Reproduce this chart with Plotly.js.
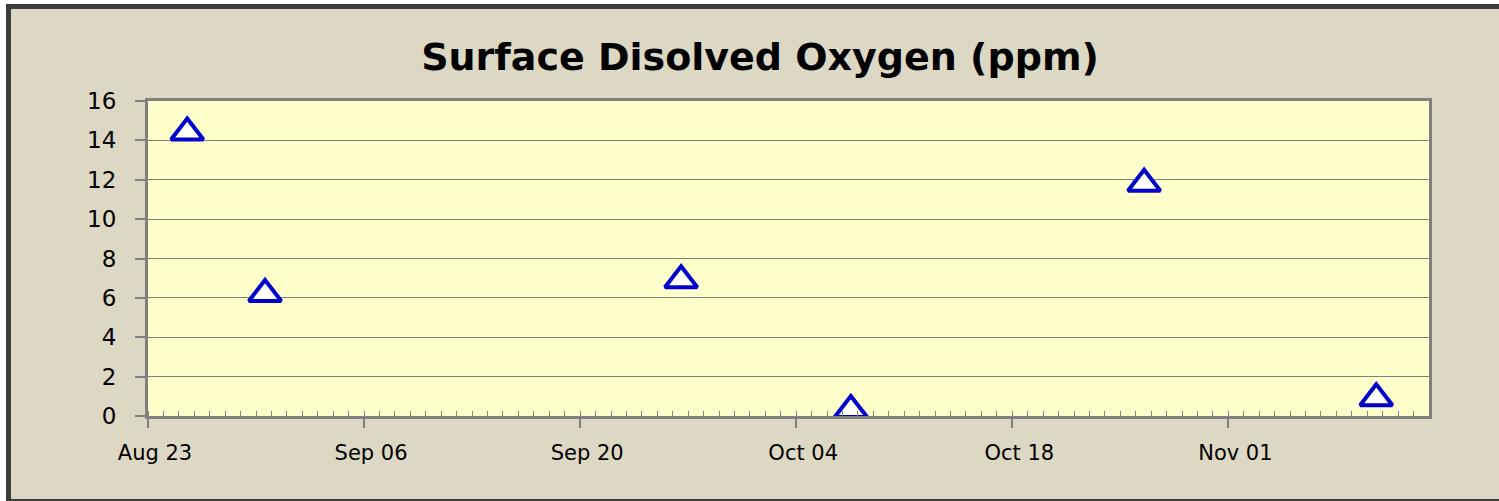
<!DOCTYPE html>
<html>
<head>
<meta charset="utf-8">
<script src="https://cdn.plot.ly/plotly-3.0.1.min.js"></script>
<style>
   body { margin: 0; background: #ffffff; overflow: hidden; }
   #frame {
      position: absolute; left: 6px; top: 4px;
      width: 1600px; height: 490px;
      border: 5px solid #3c3c3c;
      background: #ddd8c3;
   }
   #div_plot { position: absolute; left: 0; top: 0; width: 1499px; height: 501px; }
</style>
</head>
<body>
<div id="frame"></div>
<div id="div_plot"></div>
<script>
// sample dates (Excel centres each point inside its day slot)
var sample_dates = ["2008-08-25 13:00", "2008-08-30 14:00", "2008-09-26 13:00",
                    "2008-10-07 13:00", "2008-10-26 13:00", "2008-11-10 14:00"];
var oxygen_ppm = [14.4, 6.2, 6.9, 0.3, 11.8, 0.9];

var x_range = ["2008-08-23", "2008-11-14"];
var y_range = [0, 16];

var day_ms = 86400000;

function plot_graph(){

   var trace = {
      x: sample_dates,
      y: oxygen_ppm,
      mode: 'markers',
      type: 'scatter',
      marker: {
         symbol: 'triangle-up',
         size: 28,
         color: '#ffffff',
         line: { color: '#0000cc', width: 4 }
      },
      cliponaxis: false,
      hoverinfo: 'x+y'
   };

   var layout = {
      showlegend: false,
      width: 1499,
      height: 501,
      paper_bgcolor: 'rgba(0,0,0,0)',
      plot_bgcolor: '#ffffcc',
      margin: { l: 148, r: 70, t: 101, b: 85 },
      font: { family: 'DejaVu Sans', size: 22, color: '#000000' },
      title: {
         text: 'Surface Disolved Oxygen (ppm)',
         font: { family: 'DejaVu Sans', size: 38, color: '#000000', weight: 'bold' },
         x: 0.507,
         xanchor: 'center',
         yref: 'container',
         y: 1 - 57/501,
         yanchor: 'middle'
      },
      xaxis: {
         type: 'date',
         range: x_range,
         tick0: x_range[0],
         dtick: 14 * day_ms,
         tickformat: '%b %d',
         tickfont: { size: 21 },
         ticks: 'outside',
         ticklen: 9,
         tickwidth: 1.5,
         tickcolor: '#808080',
         ticklabelshift: 7,
         ticklabelstandoff: 7,
         showgrid: false,
         zeroline: false,
         showline: true,
         mirror: true,
         linecolor: '#808080',
         linewidth: 3,
         minor: {
            dtick: day_ms,
            ticks: 'inside',
            ticklen: 5,
            tickwidth: 1,
            tickcolor: '#808080',
            showgrid: false
         }
      },
      yaxis: {
         range: y_range,
         dtick: 2,
         tickfont: { size: 23 },
         ticks: 'outside',
         ticklen: 10,
         tickwidth: 1.5,
         tickcolor: '#808080',
         ticklabelstandoff: 14,
         showgrid: true,
         gridcolor: '#808080',
         gridwidth: 1,
         zeroline: false,
         showline: true,
         mirror: true,
         linecolor: '#808080',
         linewidth: 3
      }
   };

   var config = {
      responsive: false,
      displayModeBar: false
   };

   Plotly.newPlot('div_plot', [trace], layout, config);
}

plot_graph();
</script>
</body>
</html>
